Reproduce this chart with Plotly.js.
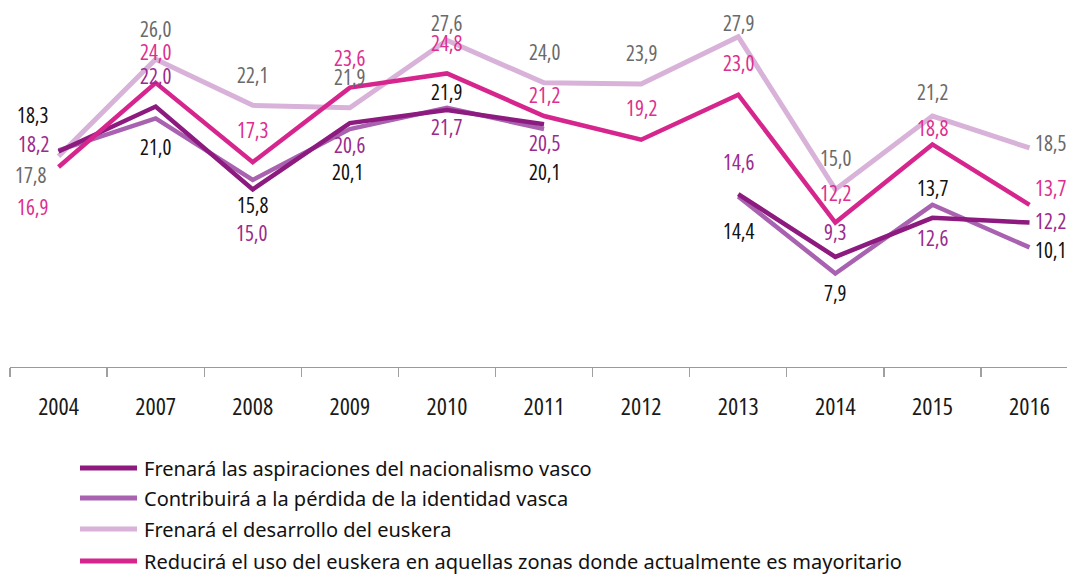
<!DOCTYPE html>
<html>
<head>
<meta charset="utf-8">
<script src="https://cdn.plot.ly/plotly-3.0.1.min.js"></script>
<style>
html,body{margin:0;padding:0;background:#fff;}
#chart{width:1067px;height:575px;}
text{font-stretch:condensed;}
</style>
</head>
<body>
<div id="chart"></div>
<script>
// ---------- data ----------
const years = ['2004','2007','2008','2009','2010','2011','2012','2013','2014','2015','2016'];
const seriesNames = [
  'Frenará las aspiraciones del nacionalismo vasco',
  'Contribuirá a la pérdida de la identidad vasca',
  'Frenará el desarrollo del euskera',
  'Reducirá el uso del euskera en aquellas zonas donde actualmente es mayoritario'
];
const aspiraciones = [18.2, 22.0, 15.0, 20.6, 21.7, 20.5, null, 14.6, 9.3, 12.6, 12.2];
const identidad    = [18.3, 21.0, 15.8, 20.1, 21.9, 20.1, null, 14.4, 7.9, 13.7, 10.1];
const desarrollo   = [17.8, 26.0, 22.1, 21.9, 27.6, 24.0, 23.9, 27.9, 15.0, 21.2, 18.5];
const usoEuskera   = [16.9, 24.0, 17.3, 23.6, 24.8, 21.2, 19.2, 23.0, 12.2, 18.8, 13.7];

// ---------- styles ----------
const FONT = '"Open Sans", "Noto Sans", "DejaVu Sans", sans-serif';
const FONT_LEG = '"Noto Sans", "Open Sans", "DejaVu Sans", sans-serif';
const lineColors  = ['#8c1a7f', '#a862b0', '#d8b2d9', '#d6268e'];
const lineWidths  = [4.5, 4.5, 5, 4.5];
const labelColors = ['#9b2a8e', '#111111', '#6a6a6a', '#dd2f90'];
// label offsets in pixels (x shift, upward shift) relative to each point
const labelDx = [
  [-25,0,-1,0,0,0,0,0,0,0,21],
  [-26,0,0,-2,0,0,0,0,0,0,21],
  [-28,0,0,0,0,0,0,0,0,0,21],
  [-26,0,0,0,0,0,0,0,0,0,21]
];
const labelUp = [
  [8,31,-44,-22,-17,-19,0,32,25,-20,2],
  [35,-29,-25,-43,15.5,-43,0,-34,-20,17,-3],
  [-19,30,30,30.5,17,30.6,31,13.4,31,24,5],
  [-40,31,32,30,30,21,31.5,31.5,30,16,17]
];

const allSeries = [aspiraciones, identidad, desarrollo, usoEuskera];
const drawOrder = [2, 1, 0, 3];

const traces = drawOrder.map(k => ({
  type: 'scatter',
  mode: 'lines',
  x: years,
  y: allSeries[k],
  name: seriesNames[k],
  connectgaps: false,
  line: {color: lineColors[k], width: lineWidths[k]},
  hoverinfo: 'x+y',
  showlegend: false
}));

const annotations = [];
allSeries.forEach((vals, k) => {
  vals.forEach((v, i) => {
    if (v === null) return;
    annotations.push({
      x: i, y: v, xref: 'x', yref: 'y',
      text: v.toFixed(1).replace('.', ','),
      showarrow: false, xanchor: 'center', yanchor: 'middle',
      xshift: labelDx[k][i], yshift: labelUp[k][i],
      font: {family: FONT, size: 21, color: labelColors[k]}
    });
  });
});

// ---------- custom legend (pixel -> paper helpers) ----------
const W = 1067, H = 575, ML = 10, MT = 0, MB = 208;
const plotW = W - ML, plotH = H - MT - MB;
const px = p => (p - ML) / plotW;
const py = p => (H - MB - p) / plotH;
const legendRows = [468, 498, 529, 561];
const shapes = [];
seriesNames.forEach((name, k) => {
  shapes.push({
    type: 'line', xref: 'paper', yref: 'paper',
    x0: px(80), x1: px(137), y0: py(legendRows[k]), y1: py(legendRows[k]),
    line: {color: lineColors[k], width: 5}
  });
  annotations.push({
    xref: 'paper', yref: 'paper', x: px(142), y: py(legendRows[k]),
    text: name, showarrow: false, xanchor: 'left', yanchor: 'middle',
    font: {family: FONT_LEG, size: 20, color: '#111'}
  });
});

const layout = {
  width: W, height: H,
  margin: {l: ML, r: 0, t: MT, b: MB, pad: 0},
  paper_bgcolor: '#fff', plot_bgcolor: '#fff',
  showlegend: false,
  xaxis: {
    type: 'category',
    range: [-0.5, 10.386],
    tickson: 'boundaries',
    ticks: 'outside', ticklen: 9, tickwidth: 1.3, tickcolor: '#a0a0a0',
    showline: true, linecolor: '#9a9a9a', linewidth: 1.3,
    showgrid: false, zeroline: false,
    ticklabelstandoff: 18,
    tickfont: {family: FONT, size: 24, color: '#1a1a1a'},
    fixedrange: true
  },
  yaxis: {
    range: [0, 31],
    visible: false, showgrid: false, zeroline: false,
    fixedrange: true
  },
  shapes: shapes,
  annotations: annotations
};

Plotly.newPlot('chart', traces, layout, {displayModeBar: false, staticPlot: true});
</script>
</body>
</html>
